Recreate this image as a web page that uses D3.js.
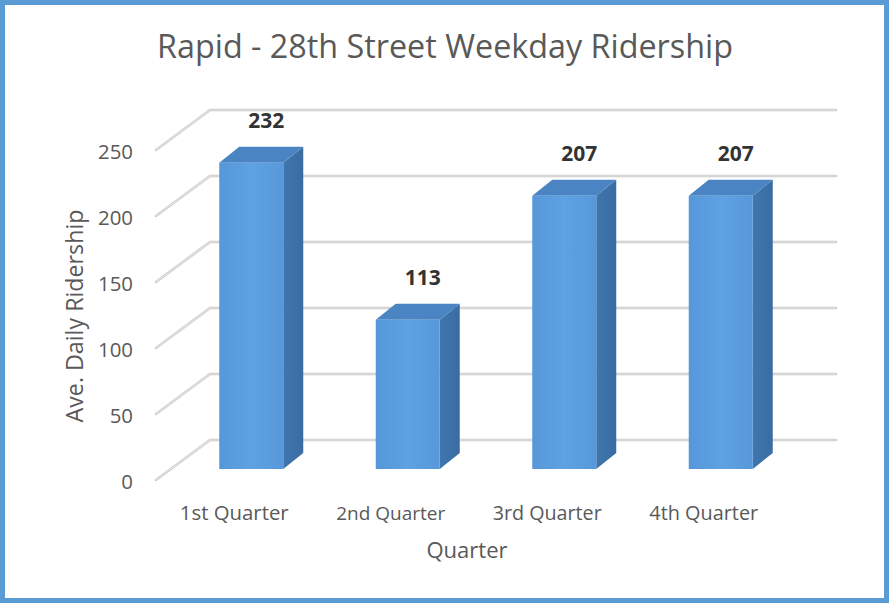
<!DOCTYPE html>
<html>
<head>
<meta charset="utf-8">
<script src="https://cdn.jsdelivr.net/npm/d3@7"></script>
<style>
  html, body { margin: 0; padding: 0; background: #fff; }
  svg { display: block; }
</style>
</head>
<body>
<svg id="chart" width="889" height="603"></svg>
<script>
// ---- Data ----
const categories = ["1st Quarter", "2nd Quarter", "3rd Quarter", "4th Quarter"];
const ridership = [232, 113, 207, 207];
const yTicks = [0, 50, 100, 150, 200, 250];
const titleText = "Rapid - 28th Street Weekday Ridership";
const yAxisTitle = "Ave. Daily Ridership";
const xAxisTitle = "Quarter";

// ---- Layout ----
const W = 889, H = 603;
const FONT = "'Open Sans', 'Noto Sans', sans-serif";
const svg = d3.select("#chart");

const frontLeft = 156, frontRight = 782;   // front plane x extent
const depth = { dx: 54, dy: -40 };          // full depth of the 3D box
const barOff = { dx: 17, dy: -11 };         // bar front face offset from front plane
const barDepth = { dx: 20, dy: -16 };       // bar depth
const barW = 64;

const x = d3.scaleBand().domain(categories).range([frontLeft, frontRight]);
const y = d3.scaleLinear().domain([0, 250]).range([480, 150]);

function fitSize(sel, target, base) {
  sel.style("font-size", base + "px");
  const len = sel.node().getComputedTextLength();
  const s = base * target / len;
  sel.style("font-size", s.toFixed(2) + "px");
  return s;
}

// Border
svg.append("rect").attr("x", 2.5).attr("y", 2.5).attr("width", W - 5).attr("height", H - 5)
  .attr("fill", "#fff").attr("stroke", "#5b9bd5").attr("stroke-width", 5);

// Gridlines (back wall + left side wall)
const grid = svg.append("g");
yTicks.forEach(v => {
  const yf = y(v), yb = y(v) + depth.dy;
  const xb0 = frontLeft + depth.dx, xb1 = frontRight + depth.dx;
  [["#c8c8c8", 2.6], ["#e4e4e4", 1.2]].forEach(([c, w]) => {
    grid.append("path")
      .attr("d", `M${frontLeft},${yf}L${xb0},${yb}L${xb1},${yb}`)
      .attr("fill", "none").attr("stroke", c).attr("stroke-width", w)
      .attr("stroke-linecap", "round").attr("stroke-linejoin", "round");
  });
});

// Gradients
const defs = svg.append("defs");
const gFront = defs.append("linearGradient").attr("id", "gFront").attr("x1", 0).attr("x2", 1).attr("y1", 0).attr("y2", 0);
gFront.append("stop").attr("offset", 0).attr("stop-color", "#5697da");
gFront.append("stop").attr("offset", 0.5).attr("stop-color", "#5ea2e3");
gFront.append("stop").attr("offset", 1).attr("stop-color", "#5798db");
const gSide = defs.append("linearGradient").attr("id", "gSide").attr("x1", 0).attr("x2", 1).attr("y1", 0).attr("y2", 0);
gSide.append("stop").attr("offset", 0).attr("stop-color", "#3f76ae");
gSide.append("stop").attr("offset", 1).attr("stop-color", "#3a6ca2");

// Bars
const bars = svg.append("g");
categories.forEach((c, i) => {
  const v = ridership[i];
  const x0 = x(c) + x.bandwidth() / 2 - barW / 2 + barOff.dx;
  const x1 = x0 + barW;
  const yb = y(0) + barOff.dy;
  const yt = y(v) + barOff.dy;
  const dx = barDepth.dx, dy = barDepth.dy;
  bars.append("path")
    .attr("d", `M${x1},${yt}L${x1 + dx},${yt + dy}L${x1 + dx},${yb + dy}L${x1},${yb}Z`)
    .attr("fill", "url(#gSide)");
  bars.append("path")
    .attr("d", `M${x0},${yt}L${x0 + dx},${yt + dy}L${x1 + dx},${yt + dy}L${x1},${yt}Z`)
    .attr("fill", "#4a84c2");
  bars.append("rect").attr("x", x0).attr("y", yt).attr("width", barW).attr("height", yb - yt)
    .attr("fill", "url(#gFront)");
  const lbl = bars.append("text")
    .attr("x", x0 + barW / 2 + 15).attr("y", yt + dy - 27)
    .attr("text-anchor", "middle").attr("dominant-baseline", "central")
    .attr("font-family", FONT).attr("font-weight", "bold").attr("fill", "#333")
    .text(v);
  fitSize(lbl, 36, 19);
});

// Y tick labels
const tickSel = svg.append("g").selectAll("text").data(yTicks).join("text")
  .attr("x", 133).attr("y", d => y(d) + 0.5)
  .attr("text-anchor", "end").attr("dominant-baseline", "central")
  .attr("font-family", FONT).attr("fill", "#595959")
  .text(d => d);
const tickSize = fitSize(tickSel.filter(d => d === 250), 35, 19);
tickSel.style("font-size", tickSize.toFixed(2) + "px");

// Category labels
categories.forEach(c => {
  const t = svg.append("text")
    .attr("x", x(c) + x.bandwidth() / 2).attr("y", 520)
    .attr("text-anchor", "middle")
    .attr("font-family", FONT).attr("fill", "#595959")
    .text(c);
  fitSize(t, 109, 18);
});

// Axis titles
const yt = svg.append("text")
  .attr("transform", "translate(74,316) rotate(-90)")
  .attr("text-anchor", "middle").attr("dominant-baseline", "central")
  .attr("font-family", FONT).attr("fill", "#595959")
  .text(yAxisTitle);
const axSize = fitSize(yt, 213, 20);

svg.append("text").attr("x", 467).attr("y", 558)
  .attr("text-anchor", "middle").attr("font-family", FONT).attr("fill", "#595959")
  .style("font-size", (axSize * 0.95).toFixed(2) + "px")
  .text(xAxisTitle);

// Title
const tt = svg.append("text").attr("x", 445).attr("y", 58)
  .attr("text-anchor", "middle").attr("font-family", FONT).attr("fill", "#595959")
  .text(titleText);
fitSize(tt, 576, 30);
</script>
</body>
</html>
